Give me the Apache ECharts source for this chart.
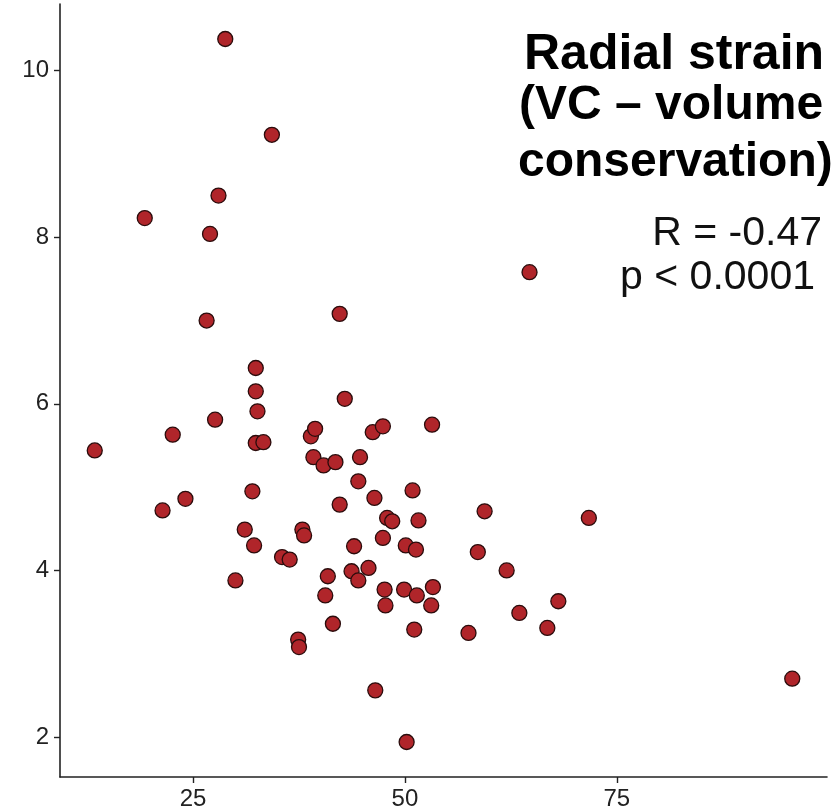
<!DOCTYPE html>
<html>
<head>
<meta charset="utf-8">
<script src="https://cdn.jsdelivr.net/npm/echarts@6/dist/echarts.min.js"></script>
<style>
    html, body { margin: 0; padding: 0; background: #fff; }
    #main { width: 838px; height: 811px; }
</style>
</head>
<body>
<div id="main"></div>
<script>
// x values
let xValues = [13.4, 19.3, 21.4, 22.6, 24.1, 26.6, 27.0, 27.6, 28.0, 28.8,
    30.0, 31.1, 32.0, 32.2, 32.4, 32.4, 32.6, 32.4, 33.3, 34.3,
    35.5, 36.4, 37.4, 37.5, 37.9, 38.1, 38.9, 39.4, 39.2, 40.4,
    40.6, 40.9, 41.5, 41.8, 42.3, 42.3, 42.9, 43.7, 44.0, 44.5,
    44.5, 44.7, 45.7, 46.2, 46.4, 46.5, 47.4, 47.4, 47.6, 47.7,
    47.9, 48.5, 49.9, 50.1, 50.2, 50.9, 51.1, 51.3, 51.4, 51.6,
    53.1, 53.2, 53.3, 57.5, 58.6, 59.4, 62.0, 63.5, 64.7, 66.8,
    68.1, 71.7, 95.7];

// y values, same order
let yValues = [5.44, 8.23, 4.72, 5.63, 4.86, 7.00, 8.04, 5.81, 8.50, 10.38,
    3.88, 4.49, 4.95, 4.30, 6.15, 6.43, 5.91, 5.53, 5.54, 9.23,
    4.16, 4.13, 3.17, 3.08, 4.49, 4.42, 5.61, 5.70, 5.36, 5.26,
    3.70, 3.93, 3.36, 5.30, 7.08, 4.79, 6.06, 3.99, 4.29, 5.07,
    3.88, 5.36, 4.03, 5.66, 4.87, 2.56, 4.39, 5.73, 3.77, 3.58,
    4.63, 4.59, 3.77, 4.30, 1.94, 4.96, 3.29, 4.25, 3.70, 4.60,
    3.58, 5.75, 3.80, 3.25, 4.22, 4.71, 4.00, 3.49, 7.58, 3.31,
    3.63, 4.63, 2.70];

let xTicks = [25, 50, 75];
let yTicks = [2, 4, 6, 8, 10];

let titleLines = ['Radial strain', '(VC \u2013 volume', 'conservation)'];
let statLines = ['R = -0.47', 'p < 0.0001'];

let chart = echarts.init(document.getElementById('main'));

let points = [];
for (let i = 0; i < xValues.length; i++) {
    points.push([xValues[i], yValues[i]]);
}

let fontName = '"Liberation Sans", Arial, Helvetica, sans-serif';

let axisCommon = {
    type: 'value',
    splitLine: { show: false },
    axisLine: { show: true, onZero: false, lineStyle: { color: '#222', width: 1.6 } },
    axisTick: { show: true, length: 6, lineStyle: { color: '#222', width: 1.4 } },
    axisLabel: { color: '#222', fontSize: 24, fontFamily: fontName }
};

let option = {
    animation: false,
    backgroundColor: '#fff',
    grid: { left: 60, right: 11, top: 4, bottom: 34, containLabel: false },
    xAxis: echarts.util.merge({
        min: 9.3,
        max: 99.8,
        axisTick: { customValues: xTicks },
        axisLabel: { customValues: xTicks, margin: 10 }
    }, axisCommon),
    yAxis: echarts.util.merge({
        min: 1.52,
        max: 10.8,
        axisTick: { customValues: yTicks },
        axisLabel: { customValues: yTicks, margin: 11 }
    }, axisCommon),
    graphic: [
        { type: 'text', left: 524, top: 30, style: { text: titleLines[0], font: 'bold 50px ' + fontName, fill: '#000' } },
        { type: 'text', left: 519, top: 82, style: { text: titleLines[1], font: 'bold 48px ' + fontName, fill: '#000' } },
        { type: 'text', left: 518, top: 139, style: { text: titleLines[2], font: 'bold 48px ' + fontName, fill: '#000' } },
        { type: 'text', right: 16, top: 213, style: { text: statLines[0], font: '41px ' + fontName, fill: '#111' } },
        { type: 'text', right: 23, top: 257, style: { text: statLines[1], font: '41px ' + fontName, fill: '#111' } }
    ],
    series: [
        {
            type: 'scatter',
            symbol: 'circle',
            symbolSize: 15,
            itemStyle: {
                color: '#b0252a',
                borderColor: '#2a0c0c',
                borderWidth: 1.3,
                opacity: 1
            },
            data: points
        }
    ]
};

option && chart.setOption(option);
</script>
</body>
</html>
